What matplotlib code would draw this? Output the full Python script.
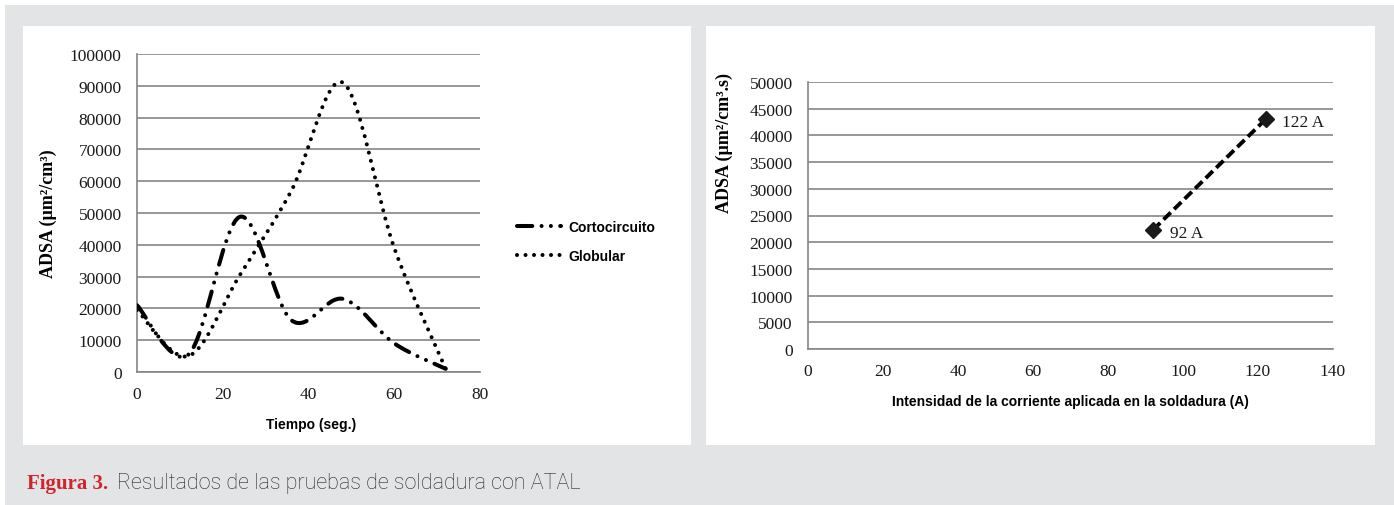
import matplotlib
matplotlib.use("Agg")
import matplotlib.pyplot as plt
from matplotlib.path import Path
from matplotlib.patches import PathPatch, Rectangle
from matplotlib.lines import Line2D
import numpy as np

# ---------------- data ----------------
tiempo = [0, 12, 24, 36, 48, 60, 72]
cortocircuito = [21000, 5500, 48800, 16300, 23000, 9000, 1000]
globular = [19500, 5000, 30500, 57000, 91000, 39000, 1000]

corriente = [92, 122]
adsa_rate = [22300, 43000]
punto_labels = ["92 A", "122 A"]

left_yticks = list(range(0, 100001, 10000))
left_xticks = [0, 20, 40, 60, 80]
right_yticks = list(range(0, 50001, 5000))
right_xticks = list(range(0, 141, 20))

GRID = "#858585"
SERIF = ["Liberation Serif", "DejaVu Serif"]
SANS_B = ["Liberation Sans Narrow", "Liberation Sans", "DejaVu Sans"]

W, H = 1394, 506
fig = plt.figure(figsize=(W / 100, H / 100), dpi=100)
fig.patch.set_facecolor("white")

# grey background + white panels
fig.add_artist(Rectangle((5 / W, 0), 1 - 5 / W, 1 - 6 / H, transform=fig.transFigure,
                         facecolor="#e3e4e6", edgecolor="none", zorder=-10))
for x0, x1 in [(23, 691), (706, 1375)]:
    fig.add_artist(Rectangle((x0 / W, 1 - 446 / H), (x1 - x0) / W, (446 - 27) / H,
                             transform=fig.transFigure, facecolor="white",
                             edgecolor="none", zorder=-9))


def smooth_path(xs, ys):
    pts = np.column_stack([xs, ys]).astype(float)
    n = len(pts)
    verts = [pts[0]]
    codes = [Path.MOVETO]
    for i in range(n - 1):
        p0 = pts[i - 1] if i > 0 else pts[i]
        p1 = pts[i]
        p2 = pts[i + 1]
        p3 = pts[i + 2] if i + 2 < n else pts[i + 1]
        c1 = p1 + (p2 - p0) / 6.0
        c2 = p2 - (p3 - p1) / 6.0
        verts += [c1, c2, p2]
        codes += [Path.CURVE4] * 3
    return Path(verts, codes)


def style_axes(ax, xticks, yticks):
    ax.set_facecolor("none")
    ax.set_xticks(xticks)
    ax.set_yticks(yticks)
    ax.set_xlim(xticks[0], xticks[-1])
    ax.set_ylim(yticks[0], yticks[-1])
    ax.grid(axis="y", color=GRID, lw=1.2)
    ax.set_axisbelow(True)
    for s in ["top", "right"]:
        ax.spines[s].set_visible(False)
    for s in ["left", "bottom"]:
        ax.spines[s].set_color(GRID)
        ax.spines[s].set_linewidth(1.2)
    ax.tick_params(length=0, labelsize=12.5, colors="#1a1a1a")
    ax.tick_params(axis="y", pad=11)
    ax.tick_params(axis="x", pad=10)
    for lab in ax.get_xticklabels() + ax.get_yticklabels():
        lab.set_family(SERIF)


# ---------------- left chart ----------------
ax1 = fig.add_axes([137 / W, 1 - 373 / H, 343 / W, 318 / H])
style_axes(ax1, left_xticks, left_yticks)

LW = 2.9
corto_ls = (0, (3.8, 2.3, 0.01, 2.3, 0.01, 2.3))
glob_ls = (0, (0.01, 2.1))
p1 = PathPatch(smooth_path(tiempo, cortocircuito), fill=False, edgecolor="black",
               lw=LW, linestyle=corto_ls, capstyle="round", zorder=3)
p2 = PathPatch(smooth_path(tiempo, globular), fill=False, edgecolor="black",
               lw=LW, linestyle=glob_ls, capstyle="round", zorder=3)
ax1.add_patch(p1)
ax1.add_patch(p2)

h1 = Line2D([], [], color="black", lw=LW, linestyle=corto_ls, dash_capstyle="round")
h2 = Line2D([], [], color="black", lw=LW, linestyle=glob_ls, dash_capstyle="round")
leg = ax1.legend([h1, h2], ["Cortocircuito", "Globular"], loc="center left",
                 bbox_to_anchor=(1.07, 0.41), frameon=False, handlelength=3.2,
                 handletextpad=0.55, labelspacing=1.05,
                 prop={"family": SANS_B, "weight": "bold", "size": 10})

ax1.set_ylabel("ADSA (µm²/cm³)", family=SERIF, weight="bold", fontsize=13)
ax1.yaxis.set_label_coords(-0.233, 0.5)
ax1.set_xlabel("Tiempo (seg.)", family=SANS_B, weight="bold", fontsize=10)
ax1.xaxis.set_label_coords(0.507, -0.142)

# ---------------- right chart ----------------
ax2 = fig.add_axes([808 / W, 1 - 350 / H, 525 / W, 267 / H])
style_axes(ax2, right_xticks, right_yticks)
ax2.plot(corriente, adsa_rate, color="black", lw=2.8, linestyle=(0, (2.6, 1.2)),
         marker="D", markersize=8, markerfacecolor="#1a1a1a",
         markeredgecolor="#1a1a1a", zorder=3)
for x, y, t in zip(corriente, adsa_rate, punto_labels):
    ax2.annotate(t, (x, y), xytext=(12, -2), textcoords="offset points",
                 ha="left", va="center", family=SERIF, fontsize=12.5, color="#1a1a1a")

ax2.set_ylabel("ADSA (µm²/cm³.s)", family=SERIF, weight="bold", fontsize=13)
ax2.yaxis.set_label_coords(-0.143, 0.775)
ax2.set_xlabel("Intensidad de la corriente aplicada en la soldadura (A)",
               family=SANS_B, weight="bold", fontsize=10)
ax2.xaxis.set_label_coords(0.499, -0.169)

# ---------------- caption ----------------
fig.text(27 / W, 1 - 489 / H, "Figura 3.", family=SERIF, weight="bold",
         color="#d2232a", fontsize=15, va="baseline", ha="left")
fig.text(117 / W, 1 - 489 / H, "Resultados de las pruebas de soldadura con ATAL",
         family=["Roboto", "DejaVu Sans"], weight="light", color="#262626",
         fontsize=15.5, va="baseline", ha="left")

fig.savefig("out.png", dpi=100)
